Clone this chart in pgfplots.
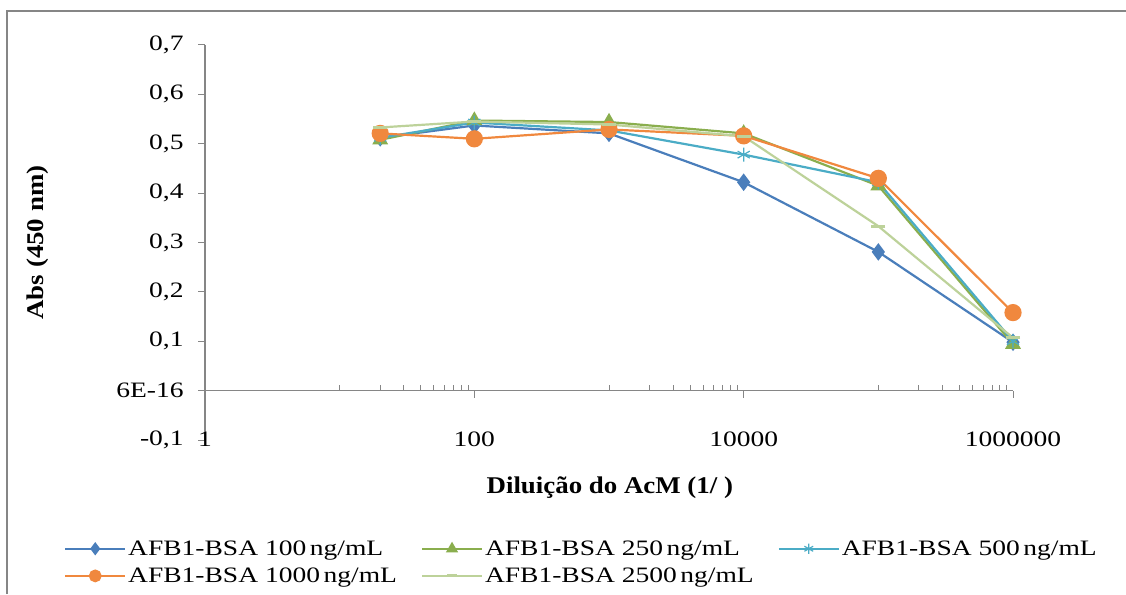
\documentclass[border=0pt]{standalone}
\usepackage{fontspec}
\setmainfont{Liberation Serif}[FakeStretch=1.25]
\newfontfamily\labelfont{Liberation Serif}[FakeStretch=1.12]
\usepackage{pgfplots}
\pgfplotsset{compat=1.18}

\definecolor{sblue}{HTML}{4A7EBB}
\definecolor{sgreen}{HTML}{8AAE4E}
\definecolor{scyan}{HTML}{4BACC6}
\definecolor{sorange}{HTML}{F0883E}
\definecolor{slight}{HTML}{BDD29A}
\definecolor{axgray}{HTML}{868686}

\begin{document}
\begin{tikzpicture}
\useasboundingbox (0,0) rectangle (1126pt,594pt);
\draw[axgray, line width=1.5pt] (7pt,0pt) -- (7pt,583pt) -- (1126pt,583pt);
\begin{axis}[
    at={(205pt,154pt)}, anchor=south west,
    scale only axis, width=808pt, height=395pt,
    xmode=log, xmin=1, xmax=1000000,
    ymin=-0.1, ymax=0.7,
    axis x line=middle, axis y line=left,
    hide obscured x ticks=false,
    x axis line style={-}, y axis line style={-},
    axis line style={axgray, line width=1.2pt},
    tick style={axgray, line width=1pt},
    tick align=outside,
    major tick length=7pt, minor tick length=6pt,
    every minor tick/.append style={yshift=6pt},
    xtick={1,100,10000,1000000},
    xticklabels={1,100,10000,1000000},
    minor xtick={10,20,30,40,50,60,70,80,90,1000,2000,3000,4000,5000,6000,7000,8000,9000,100000,200000,300000,400000,500000,600000,700000,800000,900000},
    ytick={-0.1,0,0.1,0.2,0.3,0.4,0.5,0.6,0.7},
    yticklabels={-0{,}1,6E-16,0{,}1,0{,}2,0{,}3,0{,}4,0{,}5,0{,}6,0{,}7},
    ticklabel style={font=\fontsize{22}{26}\selectfont, text=black},
    xticklabel style={yshift=-30pt},
    yticklabel style={xshift=-10pt},
    xlabel={Diluição do AcM (1/ )},
    ylabel={Abs (450 nm)},
    label style={font=\fontsize{24}{28}\labelfont\bfseries},
    xlabel style={at={(axis description cs:0.501,-0.122)}, anchor=center},
    ylabel style={at={(axis description cs:-0.207,0.5)}, anchor=center},
    line width=2.2pt,
    legend columns=3,
    legend style={at={(axis description cs:0.466,-0.242)}, anchor=north, draw=none,
        font=\fontsize{22}{26}\selectfont, row sep=7pt,
        /tikz/every even column/.append style={column sep=22pt}},
    legend cell align=left,
    legend image code/.code={\draw[mark repeat=2,mark phase=2,#1, line width=2pt, every mark/.append style={scale=0.72}] plot coordinates {(0pt,0pt) (30pt,0pt) (60pt,0pt)};},
]
\addplot[sblue, mark=diamond*, mark size=7pt] coordinates {
    (20,0.512) (100,0.537) (1000,0.521) (10000,0.422) (100000,0.281) (1000000,0.098)
};
\addlegendentry{AFB1-BSA 100\,ng/mL}
\addplot[sgreen, mark=triangle*, mark size=7pt] coordinates {
    (20,0.508) (100,0.547) (1000,0.544) (10000,0.521) (100000,0.415) (1000000,0.094)
};
\addlegendentry{AFB1-BSA 250\,ng/mL}
\addplot[scyan, mark=asterisk, mark size=7pt, mark options={line width=1.2pt}] coordinates {
    (20,0.512) (100,0.543) (1000,0.527) (10000,0.478) (100000,0.422) (1000000,0.100)
};
\addlegendentry{AFB1-BSA 500\,ng/mL}
\addplot[sorange, mark=*, mark size=7.5pt] coordinates {
    (20,0.521) (100,0.510) (1000,0.529) (10000,0.516) (100000,0.430) (1000000,0.158)
};
\addlegendentry{AFB1-BSA 1000\,ng/mL}
\addplot[slight, mark=-, mark size=7pt, mark options={line width=3pt}] coordinates {
    (20,0.533) (100,0.545) (1000,0.539) (10000,0.515) (100000,0.333) (1000000,0.107)
};
\addlegendentry{AFB1-BSA 2500\,ng/mL}
\end{axis}
\end{tikzpicture}
\end{document}
